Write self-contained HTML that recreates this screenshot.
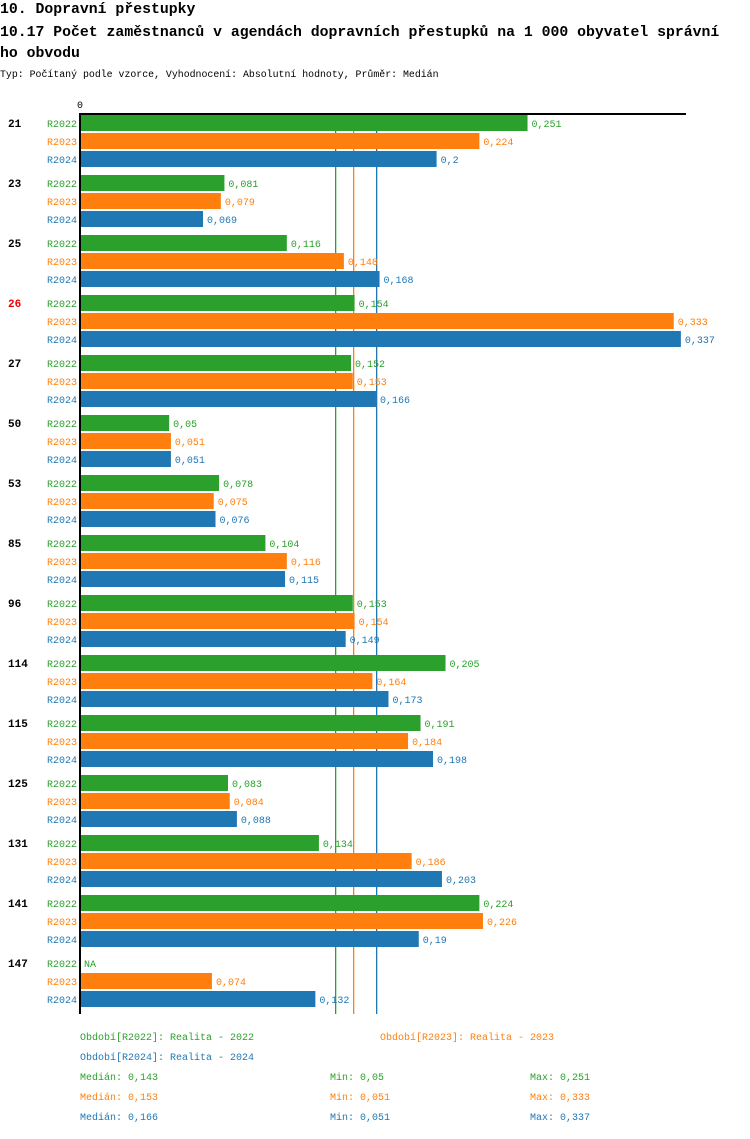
<!DOCTYPE html>
<html><head><meta charset="utf-8"><style>
body{margin:0;background:#fff;font-family:"Liberation Mono",monospace;}
svg text{font-family:"Liberation Mono",monospace;}
</style></head><body>
<svg id="c" width="750" height="1134" xmlns="http://www.w3.org/2000/svg">
<text x="0" y="13" font-size="14.8" font-weight="bold" fill="#000">10. Dopravní přestupky</text>
<text x="0" y="36" font-size="14.8" font-weight="bold" fill="#000">10.17 Počet zaměstnanců v agendách dopravních přestupků na 1 000 obyvatel správní</text>
<text x="0" y="57" font-size="14.8" font-weight="bold" fill="#000">ho obvodu</text>
<text x="0" y="77" font-size="9.9" fill="#000">Typ: Počítaný podle vzorce, Vyhodnocení: Absolutní hodnoty, Průměr: Medián</text>
<text x="77" y="108" font-size="10" fill="#000">0</text>
<g id="lines"></g><g id="bars"></g>
<rect x="80" y="113" width="606" height="2" fill="#000"/>
<rect x="79" y="113" width="2" height="901" fill="#000"/>
<g font-size="10">
<text x="80" y="1040" fill="#2ca02c">Období[R2022]: Realita - 2022</text>
<text x="380" y="1040" fill="#ff7f0e">Období[R2023]: Realita - 2023</text>
<text x="80" y="1060" fill="#1f77b4">Období[R2024]: Realita - 2024</text>
<g id="stats"></g>
</g>
</svg>
<script>
const categories=["21","23","25","26","27","50","53","85","96","114","115","125","131","141","147"];
const highlight=["26"];
const series=["R2022","R2023","R2024"];
const r2022=[0.251,0.081,0.116,0.154,0.152,0.05,0.078,0.104,0.153,0.205,0.191,0.083,0.134,0.224,null];
const r2023=[0.224,0.079,0.148,0.333,0.153,0.051,0.075,0.116,0.154,0.164,0.184,0.084,0.186,0.226,0.074];
const r2024=[0.2,0.069,0.168,0.337,0.166,0.051,0.076,0.115,0.149,0.173,0.198,0.088,0.203,0.19,0.132];
const medians=[0.143,0.153,0.166];
const mins=[0.05,0.051,0.051];
const maxs=[0.251,0.333,0.337];
const colors=["#2ca02c","#ff7f0e","#1f77b4"];
const NS="http://www.w3.org/2000/svg";
const x=v=>80+v*1783;
const y0=115, groupStep=60, barStep=18, barH=16;
const fmt=v=>String(v).replace('.',',');
function mk(t,a,p){const e=document.createElementNS(NS,t);for(const k in a)e.setAttribute(k,a[k]);p.appendChild(e);return e;}
const L=document.getElementById('lines'),B=document.getElementById('bars'),S=document.getElementById('stats');
medians.forEach((m,i)=>{const l=mk('rect',{x:Math.round(x(m)),y:115,width:1.3,height:899,fill:colors[i]},L);

});
const all=[r2022,r2023,r2024];
categories.forEach((c,g)=>{
 const gy=y0+g*groupStep;
 const t=mk('text',{x:8,y:gy+12,'font-size':11,'font-weight':'bold',fill:highlight.includes(c)?'#e00':'#000'},B);t.textContent=c;
 
 
 all.forEach((arr,s)=>{
  const by=gy+s*barStep;const v=arr[g];
  const lb=mk('text',{x:47,y:by+12,'font-size':10,fill:colors[s]},B);lb.textContent=series[s];
  
  
  if(v==null){const n=mk('text',{x:84,y:by+12,'font-size':10,fill:colors[s]},B);n.textContent='NA';
   
   return;}
  const r=mk('rect',{x:81,y:by,width:x(v)-81,height:barH,fill:colors[s]},B);
  
  
  const vt=mk('text',{x:x(v)+4,y:by+12,'font-size':10,fill:colors[s]},B);vt.textContent=fmt(v);
  
  
 });
});
series.forEach((s,i)=>{const yy=1080+i*20;
 [[80,'Medián: '+fmt(medians[i])],[330,'Min: '+fmt(mins[i])],[530,'Max: '+fmt(maxs[i])]].forEach(([xx,tx])=>{
  const t=mk('text',{x:xx,y:yy,fill:colors[i]},S);t.textContent=tx;
  
  });
});
</script>
</body></html>
